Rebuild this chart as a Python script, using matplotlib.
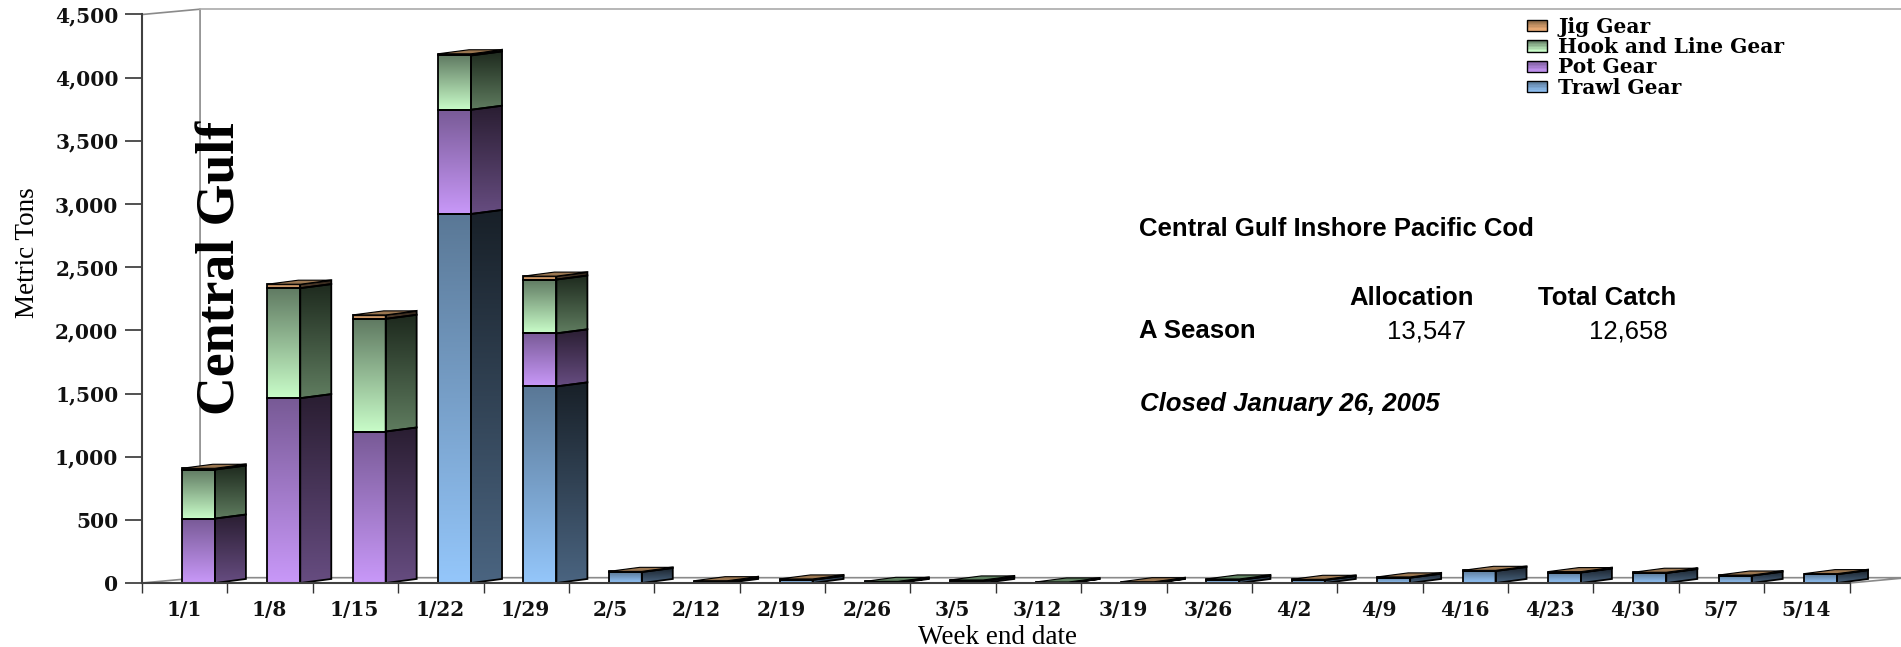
# -*- coding: utf-8 -*-
import numpy as np
import matplotlib
matplotlib.use('Agg')
import matplotlib.pyplot as plt
from matplotlib.legend_handler import HandlerBase
from matplotlib.patches import Patch, Polygon, Rectangle

weeks = ['1/1', '1/8', '1/15', '1/22', '1/29', '2/5', '2/12', '2/19', '2/26', '3/5',
         '3/12', '3/19', '3/26', '4/2', '4/9', '4/16', '4/23', '4/30', '5/7', '5/14']
trawl = [0, 0, 0, 2921, 1556, 87, 10, 25, 5, 16, 1, 2, 24, 23, 42, 95, 83, 79, 58, 69]
pot = [510, 1463, 1199, 825, 420, 0, 0, 0, 0, 0, 0, 0, 0, 0, 0, 0, 0, 0, 0, 0]
hook = [388, 871, 892, 430, 426, 0, 0, 0, 8, 8, 7, 0, 8, 0, 0, 0, 3, 3, 0, 0]
jig = [10, 31, 31, 13, 27, 5, 8, 7, 0, 0, 0, 8, 0, 6, 6, 5, 4, 3, 5, 5]

gear_names = ['Trawl Gear', 'Pot Gear', 'Hook and Line Gear', 'Jig Gear']
y_ticks = [0, 500, 1000, 1500, 2000, 2500, 3000, 3500, 4000, 4500]

table_title = 'Central Gulf Inshore Pacific Cod'
table_cols = ['Allocation', 'Total Catch']
table_row = 'A Season'
table_vals = ['13,547', '12,658']
table_note = 'Closed January 26, 2005'

# light (bottom) / dark (top) shades, front then side
FRONT = [('#94c6fa', '#5a7896'), ('#c898f8', '#785a96'), ('#c8fcc8', '#607a62'), ('#f5b27a', '#8a6a48')]
SIDE = [('#4a6480', '#182028'), ('#664c80', '#2a1e32'), ('#5f7c5f', '#1e2a1e'), ('#5a4430', '#2a2018')]
TOP = ['#4a6480', '#604878', '#5f8060', '#9a7650']

W, H = 1901, 647
X0, X1, Y0, Y1 = 142, 1849.5, 583, 14.5
SERIF = 'Liberation Serif'
TICK_FONT = dict(family='DejaVu Serif', fontweight='bold', fontsize=14.5, color='#111111')

BAR_LEFT, BAR_W = 0.468, 0.386      # front face, in categories
DX, DY = 0.363, 32                  # bar depth
WALL_X, WALL_Y = 0.68, 42           # wall offset


def rgb(c):
    return np.array(matplotlib.colors.to_rgb(c))


def grad_face(ax, pts, light, dark, z):
    pts = np.array(pts)
    col = np.linspace(rgb(light), rgb(dark), 64).reshape(64, 1, 3)
    ext = [pts[:, 0].min(), pts[:, 0].max(), pts[:, 1].min(), pts[:, 1].max()]
    im = ax.imshow(col, origin='lower', extent=ext, aspect='auto', zorder=z, interpolation='bilinear')
    poly = Polygon(pts, closed=True, fc='none', ec='black', lw=1.3, zorder=z + 0.1, clip_on=False)
    ax.add_patch(poly)
    im.set_clip_path(poly)
    im.set_clip_box(fig.bbox)


class GradHandler(HandlerBase):
    def create_artists(self, legend, orig, xd, yd, width, height, fontsize, trans):
        light, dark = orig.grad
        out = []
        n = 8
        for i in range(n):
            c = rgb(light) + (rgb(dark) - rgb(light)) * i / (n - 1)
            out.append(Rectangle((xd * -1, -yd + height * i / n), width, height / n, fc=c, ec='none', transform=trans))
        out.append(Rectangle((-xd, -yd), width, height, fc='none', ec='black', lw=1, transform=trans))
        return out


fig = plt.figure(figsize=(W / 100, H / 100), dpi=100)
ax = fig.add_axes([X0 / W, 1 - Y0 / H, (X1 - X0) / W, (Y0 - Y1) / H])

# walls
ax.plot([0, WALL_X, WALL_X], [4500, 4500 + WALL_Y, WALL_Y], color='#8a8a8a', lw=1.2, clip_on=False, zorder=1)
ax.plot([WALL_X, 21], [4500 + WALL_Y, 4500 + WALL_Y], color='#aaaaaa', lw=1.2, clip_on=False, zorder=1)
ax.plot([0, WALL_X, 20 + WALL_X, 20], [0, WALL_Y, WALL_Y, 0], color='#8a8a8a', lw=1.2, clip_on=False, zorder=1)

series = [trawl, pot, hook, jig]
for i in range(len(weeks)):
    base = 0
    top_gear = 0
    x0 = i + BAR_LEFT
    x1 = x0 + BAR_W
    x2 = x1 + DX
    for g, vals in enumerate(series):
        v = vals[i]
        if v <= 0:
            continue
        t = base + v
        grad_face(ax, [(x0, base), (x1, base), (x1, t), (x0, t)], FRONT[g][0], FRONT[g][1], 3)
        grad_face(ax, [(x1, base), (x2, base + DY), (x2, t + DY), (x1, t)], SIDE[g][0], SIDE[g][1], 3)
        base = t
        top_gear = g
    ax.add_patch(Polygon([(x0, base), (x1, base), (x2, base + DY), (x0 + DX, base + DY)], closed=True,
                         fc=TOP[top_gear], ec='black', lw=0.8, zorder=3.5, clip_on=False))

ax.set_xlim(0, len(weeks))
ax.set_ylim(0, 4500)
for s in ['top', 'right']:
    ax.spines[s].set_visible(False)
for s in ['left', 'bottom']:
    ax.spines[s].set_color('#404040')
    ax.spines[s].set_linewidth(1.5)
    ax.spines[s].set_zorder(4)

ax.set_yticks(y_ticks)
ax.set_yticklabels(['{:,}'.format(v) for v in y_ticks], **TICK_FONT)
ax.tick_params(axis='y', length=12, width=1.2, color='#333333', pad=5)
ax.set_xticks(np.arange(len(weeks) + 1))
ax.set_xticklabels([])
ax.tick_params(axis='x', which='major', length=7, width=1, color='#333333')
ax.set_xticks(np.arange(len(weeks)) + 0.49, minor=True)
ax.set_xticklabels(weeks, minor=True, **TICK_FONT)
ax.tick_params(axis='x', which='minor', length=0, pad=12)

fig.text(27 / W, 1 - 253 / H, 'Metric Tons', family=SERIF, fontsize=19.5, rotation=90, ha='center', va='center')
fig.text(997 / W, 1 - 637 / H, 'Week end date', family=SERIF, fontsize=19.5, ha='center', va='center')
fig.text(221 / W, 1 - 268 / H, 'Central Gulf', family=SERIF, fontweight='bold', fontsize=38.7,
         rotation=90, ha='center', va='center', zorder=6)

# text block
SANS = dict(family='Liberation Sans', fontsize=18.5, va='center')
fig.text(1139 / W, 1 - 229 / H, table_title, fontweight='bold', **SANS)
fig.text(1474 / W, 1 - 298 / H, table_cols[0], fontweight='bold', ha='right', **SANS)
fig.text(1676 / W, 1 - 298 / H, table_cols[1], fontweight='bold', ha='right', **SANS)
fig.text(1139 / W, 1 - 331 / H, table_row, fontweight='bold', **SANS)
fig.text(1466 / W, 1 - 331 / H, table_vals[0], ha='right', **SANS)
fig.text(1668 / W, 1 - 331 / H, table_vals[1], ha='right', **SANS)
fig.text(1140 / W, 1 - 404 / H, table_note, fontweight='bold', fontstyle='italic', **SANS)

# legend, top gear first
handles = []
for g in [3, 2, 1, 0]:
    p = Patch(label=gear_names[g])
    p.grad = FRONT[g]
    handles.append(p)
leg = fig.legend(handles=handles, loc='upper left', bbox_to_anchor=(1513 / W, 1 - 2.5 / H), frameon=False,
                 handler_map={Patch: GradHandler()}, prop=dict(family='DejaVu Serif', weight='bold', size=14.5),
                 labelspacing=0.02, handlelength=1.0, handleheight=0.5, handletextpad=0.55, borderpad=0.2)

fig.savefig('out.png', dpi=100)
